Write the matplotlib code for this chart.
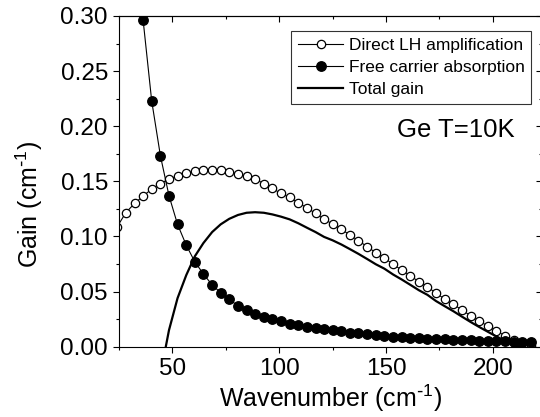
import numpy as np
import matplotlib
import matplotlib.pyplot as plt
from matplotlib.ticker import MultipleLocator, FormatStrFormatter

matplotlib.use('agg')

plt.rcParams['font.family'] = ['Liberation Sans', 'DejaVu Sans']
plt.rcParams['mathtext.default'] = 'regular'

# wavenumber grid (cm^-1), 0.5 meV steps
wavenumber = [24.2, 28.2, 32.3, 36.3, 40.3, 44.4, 48.4, 52.4, 56.5, 60.5,
              64.5, 68.6, 72.6, 76.6, 80.7, 84.7, 88.7, 92.8, 96.8, 100.8,
              104.9, 108.9, 112.9, 117.0, 121.0, 125.0, 129.1, 133.1, 137.1, 141.2,
              145.2, 149.2, 153.3, 157.3, 161.3, 165.4, 169.4, 173.4, 177.5, 181.5,
              185.5, 189.6, 193.6, 197.6, 201.7, 205.7, 209.7, 213.8, 217.8]

direct_lh = [0.109, 0.1216, 0.130, 0.1367, 0.143, 0.148, 0.152, 0.155, 0.1573, 0.1592,
             0.160, 0.1603, 0.160, 0.1588, 0.1565, 0.1545, 0.152, 0.148, 0.1437, 0.139,
             0.1355, 0.1306, 0.126, 0.121, 0.1156, 0.1113, 0.1065, 0.1013, 0.0962, 0.0907,
             0.0853, 0.0805, 0.0747, 0.0696, 0.0644, 0.059, 0.0544, 0.0484, 0.0433, 0.0385,
             0.0333, 0.0281, 0.0233, 0.0188, 0.0142, 0.010, 0.006, 0.003, 0.001]

free_carrier = [0.80, 0.55, 0.40, 0.296, 0.223, 0.173, 0.137, 0.111, 0.092, 0.077,
                0.066, 0.056, 0.049, 0.043, 0.037, 0.033, 0.030, 0.027, 0.025, 0.023,
                0.021, 0.0195, 0.018, 0.017, 0.016, 0.0148, 0.0138, 0.0128, 0.012, 0.0112,
                0.0105, 0.0097, 0.0092, 0.0087, 0.0082, 0.0078, 0.0074, 0.007, 0.0066, 0.0063,
                0.006, 0.0057, 0.0054, 0.0052, 0.005, 0.0048, 0.0046, 0.0044, 0.0042]

# total gain line starts at 44.4 cm^-1
total_x = wavenumber[5:]
total_gain = [-0.025, 0.015, 0.044, 0.065, 0.082, 0.094, 0.104, 0.111, 0.116, 0.1195,
              0.1215, 0.122, 0.1215, 0.120, 0.118, 0.1155, 0.112, 0.108, 0.104, 0.0996,
              0.0965, 0.0927, 0.0885, 0.0842, 0.0795, 0.0748, 0.0708, 0.0655, 0.061, 0.0562,
              0.0512, 0.047, 0.0414, 0.0367, 0.0322, 0.0273, 0.0224, 0.0179, 0.0136, 0.0092,
              0.0052, 0.0014, -0.0014, -0.0032]

fig = plt.figure(figsize=(5.4, 4.17), dpi=100)
ax = fig.add_axes([119 / 540, 70.3 / 417, 423 / 540, 330.7 / 417])

ax.plot(wavenumber, direct_lh, '-o', color='black', lw=0.8, ms=6,
        mfc='white', mec='black', mew=0.9, label='Direct LH amplification')
ax.plot(wavenumber, free_carrier, '-o', color='black', lw=0.8, ms=6.8,
        mfc='black', mec='black', label='Free carrier absorption')
ax.plot(total_x, total_gain, '-', color='black', lw=1.6, label='Total gain')

ax.set_xlim(25, 223)
ax.set_ylim(0, 0.30)
ax.xaxis.set_major_locator(MultipleLocator(50))
ax.xaxis.set_minor_locator(MultipleLocator(25))
ax.yaxis.set_major_locator(MultipleLocator(0.05))
ax.yaxis.set_minor_locator(MultipleLocator(0.025))
ax.yaxis.set_major_formatter(FormatStrFormatter('%.2f'))

ax.tick_params(which='both', direction='out', top=False, right=False,
               labelsize=17.5, width=0.8, pad=4)
ax.tick_params(which='major', length=4)
ax.tick_params(which='minor', length=2.5)

secx = ax.secondary_xaxis('top')
secx.xaxis.set_major_locator(MultipleLocator(50))
secx.xaxis.set_minor_locator(MultipleLocator(25))
secx.tick_params(which='both', direction='in', labeltop=False, width=0.8)
secx.tick_params(which='major', length=4)
secx.tick_params(which='minor', length=2.5)

secy = ax.secondary_yaxis('right')
secy.yaxis.set_major_locator(MultipleLocator(0.05))
secy.yaxis.set_minor_locator(MultipleLocator(0.025))
secy.tick_params(which='both', direction='in', labelright=False, width=0.8)
secy.tick_params(which='major', length=4)
secy.tick_params(which='minor', length=2.5)

for s in ax.spines.values():
    s.set_linewidth(0.8)

ax.set_xlabel(r'Wavenumber (cm$^{\text{-}1}$)', fontsize=18, labelpad=2)
ax.set_ylabel(r'Gain (cm$^{\text{-}1}$)', fontsize=18)
ax.yaxis.set_label_coords(-0.174, 0.43)

leg = ax.legend(loc='upper right', bbox_to_anchor=(0.975, 0.955), fontsize=12.5,
                frameon=True, fancybox=False, handlelength=2.6, handletextpad=0.3,
                labelspacing=0.4, borderpad=0.4, borderaxespad=0)
leg.get_frame().set_edgecolor('black')
leg.get_frame().set_linewidth(0.8)

ax.text(0.935, 0.655, 'Ge T=10K', transform=ax.transAxes, fontsize=18.5,
        ha='right', va='center')

plt.savefig('out.png', dpi=100)
